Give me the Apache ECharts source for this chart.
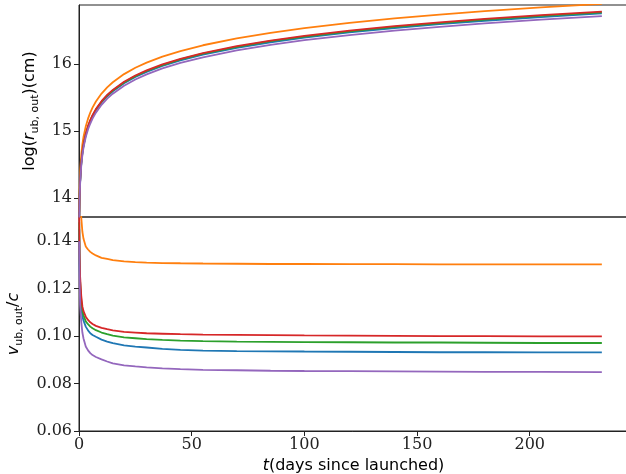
<!DOCTYPE html>
<html>
<head>
<meta charset="utf-8">
<script src="https://cdn.jsdelivr.net/npm/echarts@6/dist/echarts.min.js"></script>
<style>html,body{margin:0;padding:0;background:#fff}#c{width:626px;height:474px}</style>
</head>
<body>
<div id="c"></div>
<script>
// time samples (days since launched)
const tDays = [0.1, 0.25, 0.5, 1, 1.5, 2, 3, 4, 5, 6, 7.5, 10, 12.5, 15, 20, 25, 30, 37, 45, 55, 70, 85, 100, 120, 140, 160, 180, 205, 232];

// top panel: log(r_ub,out)(cm)
const logR_blue   = [13.626, 13.985, 14.239, 14.511, 14.667, 14.780, 14.941, 15.056, 15.145, 15.218, 15.310, 15.428, 15.520, 15.595, 15.714, 15.807, 15.883, 15.972, 16.055, 16.139, 16.242, 16.324, 16.394, 16.471, 16.537, 16.595, 16.645, 16.700, 16.754];
const logR_orange = [13.794, 14.134, 14.391, 14.649, 14.802, 14.913, 15.070, 15.186, 15.276, 15.350, 15.441, 15.560, 15.653, 15.729, 15.850, 15.944, 16.021, 16.111, 16.194, 16.280, 16.383, 16.466, 16.536, 16.614, 16.680, 16.737, 16.788, 16.844, 16.897];
const logR_green  = [13.634, 13.993, 14.249, 14.521, 14.678, 14.790, 14.951, 15.067, 15.156, 15.230, 15.321, 15.439, 15.531, 15.606, 15.726, 15.820, 15.896, 15.985, 16.068, 16.154, 16.257, 16.340, 16.409, 16.487, 16.553, 16.610, 16.661, 16.717, 16.770];
const logR_red    = [13.644, 14.002, 14.259, 14.528, 14.687, 14.797, 14.959, 15.075, 15.164, 15.237, 15.328, 15.446, 15.539, 15.614, 15.735, 15.829, 15.906, 15.995, 16.078, 16.164, 16.267, 16.350, 16.420, 16.498, 16.565, 16.622, 16.672, 16.728, 16.782];
const logR_purple = [13.612, 13.967, 14.216, 14.486, 14.642, 14.754, 14.912, 15.026, 15.113, 15.186, 15.276, 15.392, 15.484, 15.558, 15.677, 15.770, 15.846, 15.934, 16.016, 16.101, 16.203, 16.286, 16.355, 16.432, 16.498, 16.555, 16.605, 16.661, 16.714];

// bottom panel: v_ub,out / c
const v_blue   = [0.145, 0.130, 0.120, 0.112, 0.1085, 0.1065, 0.1040, 0.1024, 0.1012, 0.1005, 0.0997, 0.0985, 0.0977, 0.0970, 0.0961, 0.0956, 0.0952, 0.0946, 0.0942, 0.0939, 0.0937, 0.0936, 0.0935, 0.0934, 0.0933, 0.0932, 0.0932, 0.0931, 0.0931];
const v_orange = [0.200, 0.175, 0.160, 0.150, 0.144, 0.141, 0.1378, 0.1365, 0.1355, 0.1348, 0.1340, 0.1330, 0.1325, 0.1320, 0.1315, 0.1312, 0.1310, 0.1308, 0.1307, 0.1306, 0.1305, 0.1304, 0.1304, 0.1303, 0.1303, 0.1302, 0.1302, 0.1302, 0.1302];
const v_green  = [0.148, 0.133, 0.123, 0.115, 0.1108, 0.1088, 0.1062, 0.1050, 0.1040, 0.1033, 0.1025, 0.1015, 0.1008, 0.1002, 0.0995, 0.0991, 0.0987, 0.0984, 0.0981, 0.0979, 0.0977, 0.0976, 0.0975, 0.0974, 0.0973, 0.0973, 0.0972, 0.0971, 0.0971];
const v_red    = [0.150, 0.135, 0.125, 0.117, 0.1125, 0.1105, 0.1082, 0.1068, 0.1058, 0.1051, 0.1043, 0.1035, 0.1029, 0.1024, 0.1018, 0.1015, 0.1012, 0.1010, 0.1008, 0.1006, 0.1005, 0.1004, 0.1003, 0.1002, 0.1001, 0.1000, 0.1000, 0.0999, 0.0999];
const v_purple = [0.140, 0.124, 0.113, 0.106, 0.1015, 0.0990, 0.0956, 0.0940, 0.0928, 0.0920, 0.0912, 0.0902, 0.0893, 0.0885, 0.0877, 0.0872, 0.0868, 0.0864, 0.0861, 0.0858, 0.0856, 0.0854, 0.0853, 0.0852, 0.0851, 0.0850, 0.0849, 0.0849, 0.0848];

// tick labels
const topYTicks = [14, 15, 16];
const botYTicks = [0.06, 0.08, 0.10, 0.12, 0.14];
const xTicks = [0, 50, 100, 150, 200];

const colors = { blue: '#1f77b4', orange: '#ff7f0e', green: '#2ca02c', red: '#d62728', purple: '#9467bd' };
const order = ['blue', 'orange', 'green', 'red', 'purple'];
const topData = { blue: logR_blue, orange: logR_orange, green: logR_green, red: logR_red, purple: logR_purple };
const botData = { blue: v_blue, orange: v_orange, green: v_green, red: v_red, purple: v_purple };

const pair = (ys) => tDays.map((t, i) => [t, ys[i]]);
const AX = '#222';
const tickFont = { fontFamily: 'DejaVu Serif', fontSize: 16, color: '#222' };

const series = [];
order.forEach(k => {
  series.push({ type: 'line', xAxisIndex: 0, yAxisIndex: 0, data: pair(topData[k]), showSymbol: false,
    smooth: false, clip: true, lineStyle: { color: colors[k], width: 1.8 }, itemStyle: { color: colors[k] }, animation: false });
});
order.forEach(k => {
  series.push({ type: 'line', xAxisIndex: 1, yAxisIndex: 1, data: pair(botData[k]), showSymbol: false,
    smooth: false, clip: true, lineStyle: { color: colors[k], width: 1.8 }, itemStyle: { color: colors[k] }, animation: false });
});

const nameRich = {
  n: { fontFamily: 'DejaVu Sans', fontSize: 16, color: '#000', lineHeight: 22 },
  i: { fontFamily: 'DejaVu Sans', fontStyle: 'italic', fontSize: 16, color: '#000', lineHeight: 22 },
  s: { fontFamily: 'DejaVu Sans', fontSize: 11, color: '#000', lineHeight: 11, verticalAlign: 'bottom' }
};

const chart = echarts.init(document.getElementById('c'), null, { renderer: 'canvas' });
chart.setOption({
  animation: false,
  backgroundColor: '#fff',
  grid: [
    { left: 79, right: -2, top: 5, height: 212, show: true, borderColor: AX, borderWidth: 1, backgroundColor: 'transparent', containLabel: false, outerBoundsMode: 'none' },
    { left: 79, right: -2, top: 217, height: 214, show: true, borderColor: AX, borderWidth: 1, backgroundColor: 'transparent', containLabel: false, outerBoundsMode: 'none' }
  ],
  xAxis: [
    { gridIndex: 0, type: 'value', min: 0, max: 243.6, interval: 50,
      axisLine: { show: false }, axisTick: { show: false }, axisLabel: { show: false }, splitLine: { show: false } },
    { gridIndex: 1, type: 'value', min: 0, max: 243.6, interval: 50,
      axisLine: { show: true, lineStyle: { color: AX } },
      axisTick: { show: true, length: 5, lineStyle: { color: AX }, customValues: xTicks },
      axisLabel: Object.assign({ margin: 6, customValues: xTicks, formatter: v => String(v) }, tickFont),
      splitLine: { show: false },
      name: '{i|t}{n|(days since launched)}', nameLocation: 'middle', nameGap: 24,
      nameTextStyle: { rich: nameRich } }
  ],
  yAxis: [
    { gridIndex: 0, type: 'value', min: 13.72, max: 16.88,
      axisLine: { show: true, lineStyle: { color: AX } },
      axisTick: { show: true, length: 5, lineStyle: { color: AX }, customValues: topYTicks },
      axisLabel: Object.assign({ margin: 7, customValues: topYTicks, formatter: v => String(v) }, tickFont),
      splitLine: { show: false },
      name: '{n|log(}{i|r}{s|ub, out}{n|)(cm)}', nameLocation: 'middle', nameGap: 36,
      nameTextStyle: { rich: nameRich } },
    { gridIndex: 1, type: 'value', min: 0.06, max: 0.1502,
      axisLine: { show: true, lineStyle: { color: AX } },
      axisTick: { show: true, length: 5, lineStyle: { color: AX }, customValues: botYTicks },
      axisLabel: Object.assign({ margin: 7, customValues: botYTicks, formatter: v => v.toFixed(2) }, tickFont),
      splitLine: { show: false },
      name: '{i|v}{s|ub, out}{n|/}{i|c}', nameLocation: 'middle', nameGap: 54,
      nameTextStyle: { rich: nameRich } }
  ],
  series: series
});
</script>
</body>
</html>
